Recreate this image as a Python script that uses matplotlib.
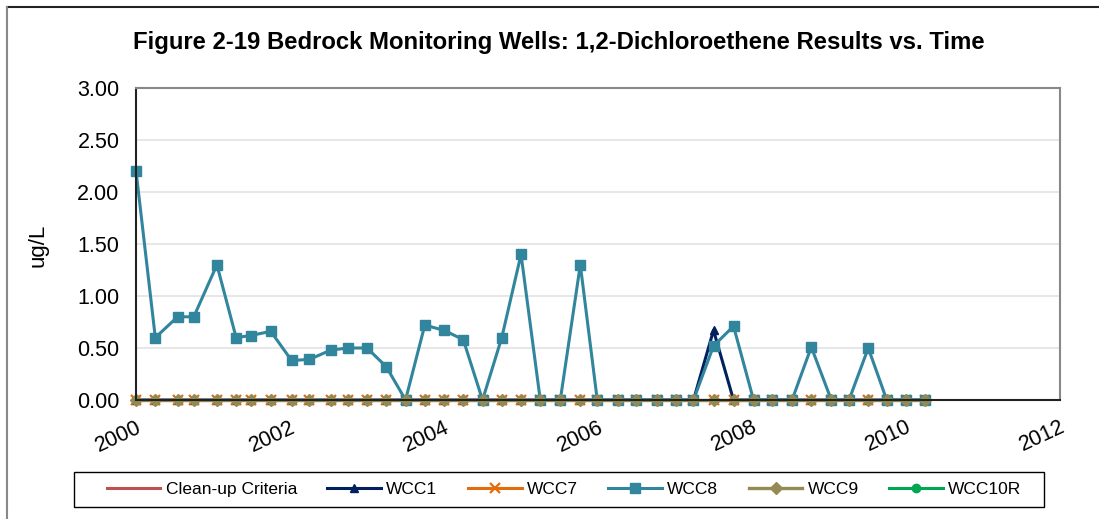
import matplotlib
matplotlib.use("Agg")
import matplotlib.pyplot as plt
from matplotlib.lines import Line2D
from matplotlib.patches import Rectangle

plt.rcParams["font.family"] = ["Liberation Sans", "DejaVu Sans"]

# sample dates (decimal years)
dates = [2000.00, 2000.25, 2000.54, 2000.75, 2001.05, 2001.30, 2001.49, 2001.75,
         2002.02, 2002.25, 2002.53, 2002.75, 2003.00, 2003.25, 2003.50, 2003.75,
         2004.00, 2004.25, 2004.50, 2004.75, 2005.00, 2005.25, 2005.51, 2005.77,
         2005.99, 2006.26, 2006.49, 2006.76, 2007.01, 2007.24, 2007.50, 2007.76,
         2008.02, 2008.26, 2008.52, 2008.77, 2009.03, 2009.26, 2009.51, 2009.75,
         2010.00, 2010.25]

wcc8 = [2.20, 0.60, 0.80, 0.80, 1.30, 0.60, 0.62, 0.66,
        0.38, 0.39, 0.48, 0.50, 0.50, 0.32, 0.00, 0.72,
        0.67, 0.58, 0.00, 0.60, 1.40, 0.00, 0.00, 1.30,
        0.00, 0.00, 0.00, 0.00, 0.00, 0.00, 0.52, 0.71,
        0.00, 0.00, 0.00, 0.51, 0.00, 0.00, 0.50, 0.00,
        0.00, 0.00]
wcc1 = [0.0] * 30 + [0.67] + [0.0] * 11
wcc7 = [0.0] * 42
wcc9 = [0.0] * 42
wcc10r_dates, wcc10r = [], []

# clean-up criteria (70 ug/L, off the plotted scale)
cleanup_dates = [2000, 2012]
cleanup = [70, 70]

xticks = [2000, 2002, 2004, 2006, 2008, 2010, 2012]
yticks = [0.0, 0.5, 1.0, 1.5, 2.0, 2.5, 3.0]

fig = plt.figure(figsize=(10.99, 5.19), dpi=100)
ax = fig.add_axes([0.1238, 0.2293, 0.8407, 0.6011])

ax.plot(cleanup_dates, cleanup, color="#C0504D", lw=2.2, label="Clean-up Criteria")
ax.plot(dates, wcc1, color="#002060", lw=2.2, marker="^", ms=6, label="WCC1", clip_on=False)
ax.plot(dates, wcc7, color="#E46C0A", lw=2.2, marker="x", ms=7, mew=1.6, label="WCC7", clip_on=False)
ax.plot(dates, wcc8, color="#31859C", lw=2.2, marker="s", ms=7, label="WCC8", clip_on=False)
ax.plot(dates, wcc9, color="#948A54", lw=2.4, marker="D", ms=6, label="WCC9", clip_on=False)
ax.plot(wcc10r_dates, wcc10r, color="#00A650", lw=2.2, marker="o", ms=6, label="WCC10R", clip_on=False)

ax.set_xlim(2000, 2012)
ax.set_ylim(0, 3)
ax.set_xticks(xticks)
ax.set_yticks(yticks)
ax.set_yticklabels([f"{v:.2f}" for v in yticks])
ax.tick_params(axis="both", length=0, labelsize=15.5)
ax.tick_params(axis="y", pad=12)
for lab in ax.get_xticklabels():
    lab.set_rotation(25)
    lab.set_ha("right")
    lab.set_rotation_mode("anchor")
ax.tick_params(axis="x", pad=12)
ax.grid(axis="y", color="#e3e3e3", lw=1.2)
ax.set_axisbelow(True)
for s in ["top", "right"]:
    ax.spines[s].set_color("#888888")
    ax.spines[s].set_linewidth(1.5)
for s in ["left", "bottom"]:
    ax.spines[s].set_color("#222222")
    ax.spines[s].set_linewidth(1.5)

fig.text(0.5086, 0.919, "Figure 2-19 Bedrock Monitoring Wells: 1,2-Dichloroethene Results vs. Time",
         ha="center", va="center", fontsize=17.2, weight="bold")
fig.text(0.035, 0.528, "ug/L", rotation=90, ha="center", va="center", fontsize=16)

# legend: entries without frame, box drawn separately to match the wide Excel frame
fig.legend(loc="center", bbox_to_anchor=(564 / 1099, 0.0568), ncol=6,
           fontsize=12.5, handlelength=3.1, columnspacing=1.75, handletextpad=0.3,
           frameon=False)
fig.add_artist(Rectangle((74 / 1099, 1 - 507 / 519), 970 / 1099, 35 / 519,
                         transform=fig.transFigure, fill=False,
                         edgecolor="black", lw=1.0))

# chart-area border (top and left edges visible in the crop)
fig.add_artist(Line2D([7 / 1099, 1], [1 - 7 / 519] * 2, color="#222222", lw=1.5))
fig.add_artist(Line2D([7 / 1099] * 2, [0, 1 - 7 / 519], color="#888888", lw=1.5))

fig.savefig("out.png", dpi=100)
